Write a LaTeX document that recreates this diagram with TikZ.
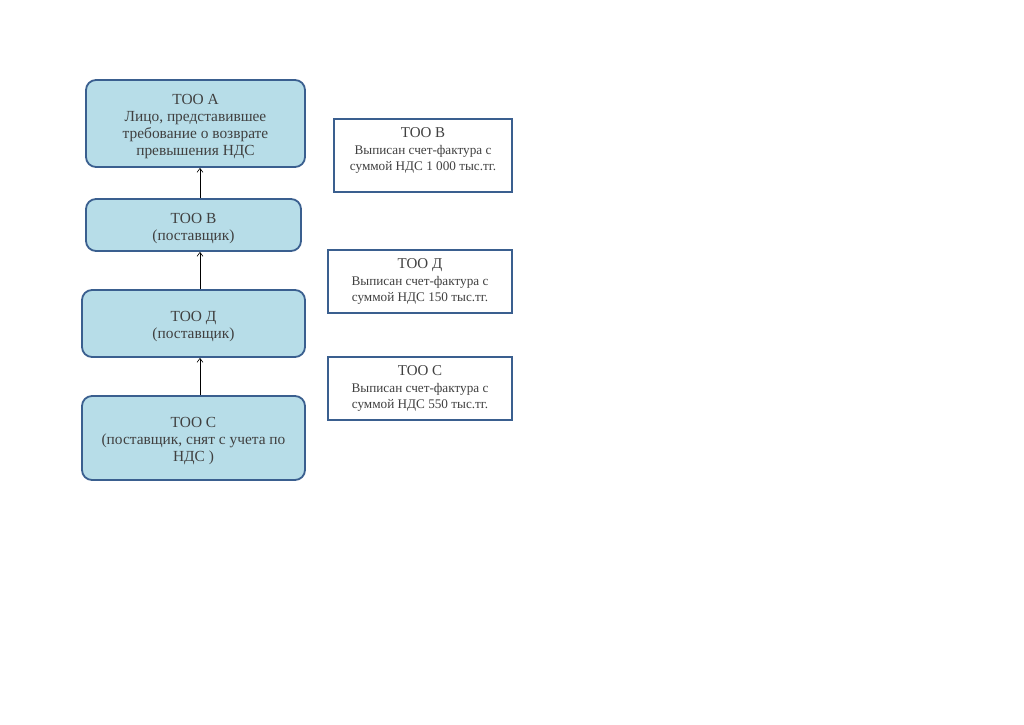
\documentclass[tikz,border=0pt]{standalone}
\usepackage{fontspec}
\setmainfont{Liberation Serif}
\usetikzlibrary{arrows.meta}
\definecolor{boxfill}{HTML}{B7DDE8}
\definecolor{boxline}{HTML}{3A5F8F}
\definecolor{txtgray}{HTML}{404040}
\tikzset{
    firm/.style = {draw=boxline, line width=1.8pt, fill=boxfill, rounded corners=10pt,
        align=center, text=txtgray, inner sep=0pt, font=\fontsize{15.4}{17}\selectfont},
    invoice/.style = {draw=boxline, line width=1.6pt, fill=white,
        align=center, text=txtgray, inner sep=0pt, font=\fontsize{13.2}{16.5}\selectfont},
    upline/.style = {draw=black, line width=0.6pt, -{Straight Barb[length=4pt,width=6pt]}}
}
\newcommand{\firmtitle}[1]{\rule{0pt}{16.5pt}#1}
\newcommand{\invtitle}[1]{{\fontsize{15}{17}\selectfont #1}}
\begin{document}
\begin{tikzpicture}[x=1pt, y=-1pt]
    \useasboundingbox (0,0) rectangle (1024,724);
    % left column
    \node[firm, minimum width=219pt, minimum height=87pt] (tooA) at (195.5,123.5)
        {\firmtitle{ТОО А}\\Лицо, представившее\\требование о возврате\\превышения НДС};
    \node[firm, minimum width=215pt, minimum height=52pt] (tooB) at (193.5,225)
        {\firmtitle{ТОО В}\\(поставщик)};
    \node[firm, minimum width=223pt, minimum height=67pt] (tooD) at (193.5,323.5)
        {\firmtitle{ТОО Д}\\(поставщик)};
    \node[firm, minimum width=223pt, minimum height=84pt] (tooC) at (193.5,438)
        {\firmtitle{ТОО С}\\(поставщик, снят с учета по\\НДС )};
    \draw[upline] ([xshift=6.5pt]tooB.north) -- ([xshift=4.5pt]tooA.south);
    \draw[upline] ([xshift=6.5pt]tooD.north) -- ([xshift=6.5pt]tooB.south);
    \draw[upline] ([xshift=6.5pt]tooC.north) -- ([xshift=6.5pt]tooD.south);
    % right column
    \node[invoice, minimum width=178pt, minimum height=73pt] (invB) at (423,155.5)
        {\invtitle{ТОО В}\\Выписан счет-фактура с\\суммой НДС 1 000 тыс.тг.\\[-4pt]};
    \node[invoice, minimum width=184pt, minimum height=63pt] (invD) at (420,281.5)
        {\invtitle{ТОО Д}\\Выписан счет-фактура с\\суммой НДС 150 тыс.тг.};
    \node[invoice, minimum width=184pt, minimum height=63pt] (invC) at (420,388.5)
        {\invtitle{ТОО С}\\Выписан счет-фактура с\\суммой НДС 550 тыс.тг.};
\end{tikzpicture}
\end{document}
